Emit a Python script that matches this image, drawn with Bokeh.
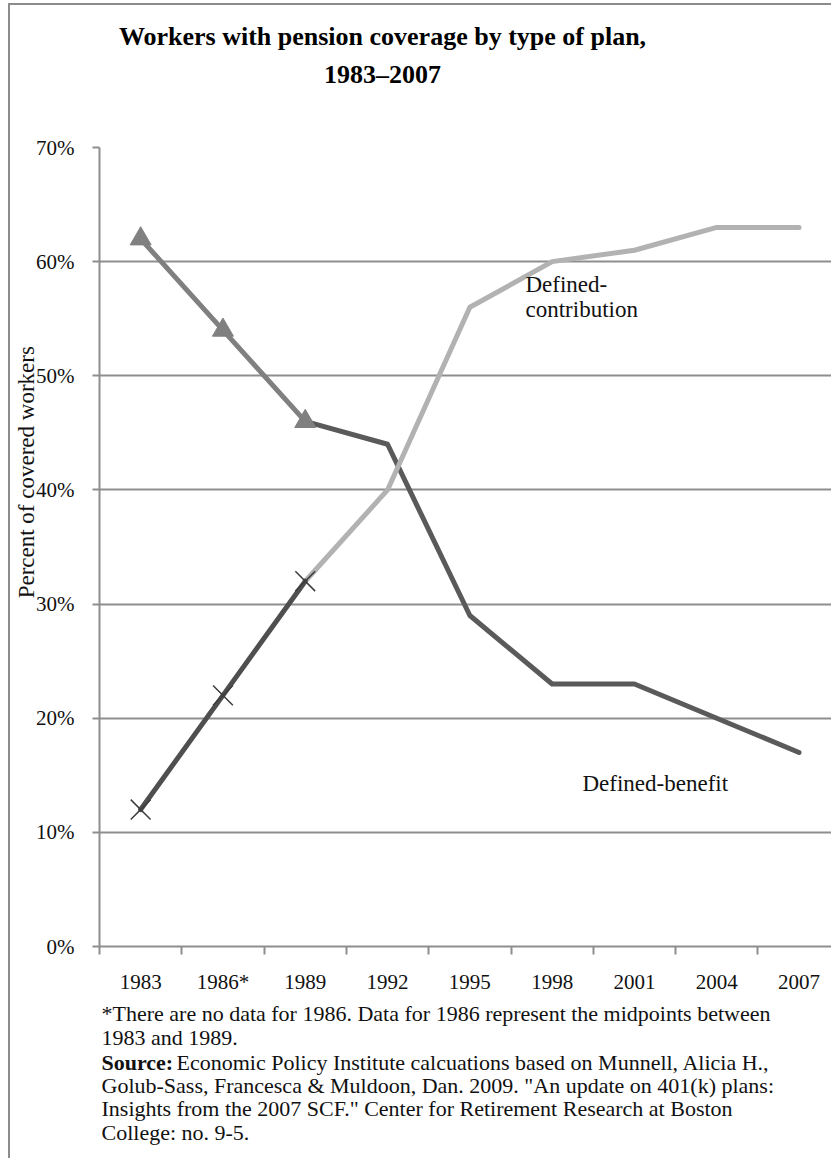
import math
from bokeh.plotting import figure
from bokeh.layouts import column
from bokeh.models import Range1d, FixedTicker, PrintfTickFormatter, Label
from bokeh.embed import file_html
from bokeh.resources import INLINE

# ---------------- data ----------------
years = ["1983", "1986*", "1989", "1992", "1995", "1998", "2001", "2004", "2007"]
defined_benefit = [62, 54, 46, 44, 29, 23, 23, 20, 17]
defined_contribution = [12, 22, 32, 40, 56, 60, 61, 63, 63]
y_ticks = [0, 10, 20, 30, 40, 50, 60, 70]
n_marked = 3  # 1983, 1986*, 1989 drawn with markers

title_lines = ["Workers with pension coverage by type of plan,", "1983\u20132007"]
y_label = "Percent of covered workers"
note_lines = [
    "*There are no data for 1986.  Data for 1986 represent the midpoints between",
    "1983 and 1989.",
    None,
    "Golub-Sass, Francesca  & Muldoon, Dan. 2009. \"An update on 401(k) plans:",
    "Insights from  the 2007 SCF.\" Center for Retirement Research at Boston",
    "College: no. 9-5.",
]
source_bold = "Source:"
source_rest = "Economic Policy Institute calcuations based on Munnell, Alicia H.,"

# ---------------- layout (page pixels) ----------------
OFF_X, OFF_Y = 10, 5                 # content origin (after border)
W = 831 - OFF_X
HEAD_BOT, MAIN_BOT = 120, 998        # page y where header / main figure end
PFL, PFR, PFT, PFB = 99, 831, 147, 946   # plot frame in page coords
CAT = 82.3                           # px per category

FONT = "Liberation Serif"
GRID = "#8e8e8e"
TXT = "#111111"
NOTE_SIZE = "22px"


def text_fig(top, bottom):
    f = figure(width=W, height=bottom - top, output_backend="svg", toolbar_location=None,
               x_range=Range1d(PFL, PFR), y_range=Range1d(bottom, top),
               x_axis_type=None, y_axis_type=None,
               min_border_left=PFL - OFF_X, min_border_right=0,
               min_border_top=0, min_border_bottom=0)
    f.outline_line_color = None
    f.grid.visible = False
    return f


def lab(f, text, px, py, size, align="left", bold=False, color=TXT):
    f.add_layout(Label(x=px, y=py, text=text, text_font=FONT,
                       text_font_size=size,
                       text_font_style="bold" if bold else "normal",
                       text_align=align, text_baseline="middle", text_color=color))


# ---------------- header ----------------
head = text_fig(OFF_Y, HEAD_BOT)
lab(head, title_lines[0], 382, 36, "26px", align="center", bold=True, color="#000000")
lab(head, title_lines[1], 382, 74, "26px", align="center", bold=True, color="#000000")

# ---------------- main chart ----------------
x = list(range(len(years)))
p = figure(width=W, height=MAIN_BOT - HEAD_BOT, output_backend="svg", toolbar_location=None,
           x_range=Range1d(-0.5, -0.5 + (PFR - PFL) / CAT),
           y_range=Range1d(0, 70),
           min_border_left=PFL - OFF_X, min_border_right=0,
           min_border_top=PFT - HEAD_BOT, min_border_bottom=MAIN_BOT - PFB)
p.outline_line_color = None

ya = p.yaxis[0]
ya.ticker = FixedTicker(ticks=y_ticks)
ya.formatter = PrintfTickFormatter(format="%d%%")
ya.axis_line_color = GRID
ya.axis_line_width = 2
ya.major_tick_line_color = GRID
ya.major_tick_line_width = 2
ya.major_tick_out = 7
ya.major_tick_in = 0
ya.minor_tick_out = 0
ya.minor_tick_in = 0
ya.major_label_text_font = FONT
ya.major_label_text_font_size = "21px"
ya.major_label_text_color = TXT
ya.major_label_standoff = 18
# axis title overlaps the tick labels and sits above the axis centre, as in the original
ya.axis_label = "\u00a0" * 26 + y_label
ya.axis_label_standoff = -6
ya.axis_label_text_font = FONT
ya.axis_label_text_font_size = "23px"
ya.axis_label_text_font_style = "normal"
ya.axis_label_text_color = TXT

xa = p.xaxis[0]
xa.ticker = FixedTicker(ticks=x, minor_ticks=[i - 0.5 for i in range(len(years) + 1)])
xa.major_label_overrides = {i: lab_ for i, lab_ in enumerate(years)}
xa.axis_line_color = GRID
xa.axis_line_width = 2
xa.major_tick_out = 0
xa.major_tick_in = 0
xa.minor_tick_out = 8
xa.minor_tick_in = 0
xa.minor_tick_line_color = GRID
xa.minor_tick_line_width = 2
xa.major_label_text_font = FONT
xa.major_label_text_font_size = "21px"
xa.major_label_text_color = TXT
xa.major_label_standoff = 15

p.xgrid.visible = False
p.ygrid.grid_line_color = GRID
p.ygrid.grid_line_width = 2

k = n_marked
lw = dict(line_width=5, line_join="round", line_cap="round")
p.line(x[k - 1:], defined_benefit[k - 1:], line_color="#5a5a5a", **lw)
p.line(x[k - 1:], defined_contribution[k - 1:], line_color="#b2b2b2", **lw)
p.line(x[:k], defined_benefit[:k], line_color="#808080", **lw)
p.line(x[:k], defined_contribution[:k], line_color="#4f4f4f", **lw)
p.scatter(x[:k], defined_benefit[:k], marker="triangle", size=21,
          fill_color="#808080", line_color="#808080")
p.scatter(x[:k], defined_contribution[:k], marker="x", size=28,
          line_color="#3c3c3c", line_width=1.5)


def plab(text, px, py, size):
    p.add_layout(Label(x=px - PFL, y=PFB - py, x_units="screen", y_units="screen",
                       text=text, text_font=FONT, text_font_size=size,
                       text_align="left", text_baseline="middle", text_color=TXT))


plab("Defined-", 525, 284, "23px")
plab("contribution", 525, 309, "23px")
plab("Defined-benefit", 582, 783, "23px")

# ---------------- footer ----------------
foot = text_fig(MAIN_BOT, 1158)
note_y = [1013, 1037, 1062, 1085, 1108, 1132]
for line, yy in zip(note_lines, note_y):
    if line is not None:
        lab(foot, line, 101, yy, NOTE_SIZE)
lab(foot, source_bold, 101, note_y[2], NOTE_SIZE, bold=True)
lab(foot, source_rest, 176, note_y[2], NOTE_SIZE)

page = column(head, p, foot, spacing=0)
page.margin = (3, 0, 0, 8)
page.styles = {"border-left": "2px solid #8c8c8c", "border-top": "2px solid #8c8c8c"}

open("out.html", "w").write(file_html(page, INLINE))
